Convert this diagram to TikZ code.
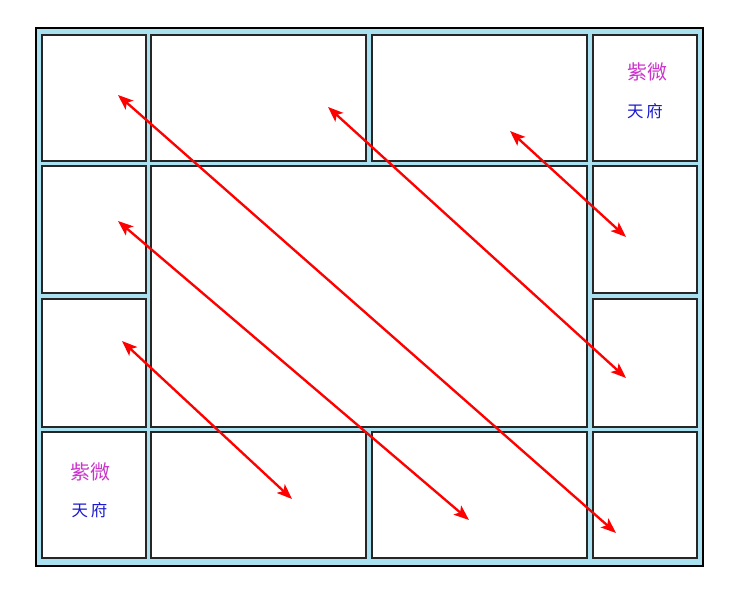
\documentclass[tikz,border=0pt]{standalone}
\usepackage{fontspec}
\usepackage{xcolor}
\newfontfamily\cjk{Noto Sans CJK TC}
\usetikzlibrary{
	positioning,       %定位
	arrows.meta        %箭头
}
\definecolor{gongblue}{HTML}{A9E1F0}
\definecolor{ziwei}{HTML}{CC33CC}
\definecolor{tianfu}{HTML}{1A1AD0}
\tikzset{
	every picture/.style={
		>=latex,
		x=0.03cm,y=-0.03cm
}}
\tikzset{
	frame/.style={draw=black,line width=2pt,fill=gongblue},
	cell/.style={draw=black!85,line width=1pt,fill=white},
	star/.style={font=\cjk\fontsize{17pt}{17pt}\selectfont,text=ziwei,inner sep=0pt},
	starb/.style={font=\cjk\fontsize{14pt}{14pt}\selectfont,text=tianfu,inner sep=0pt},
	pairline/.style={draw=red,line width=2pt,{Stealth[length=13pt,width=10pt,inset=3pt]}-{Stealth[length=13pt,width=10pt,inset=3pt]}}
}
\begin{document}
\begin{tikzpicture}
	\useasboundingbox (0,0) rectangle (740,594);
	% 外框
	\draw[frame] (36,28) rectangle (703,566);
	% 十二宫
	\foreach \xa/\xb in {42/146,151/366,372/587,593/697}
	{
		\draw[cell] (\xa,35) rectangle (\xb,161);
		\draw[cell] (\xa,432) rectangle (\xb,558);
	}
	\foreach \ya/\yb in {166/293,299/427}
	{
		\draw[cell] (42,\ya) rectangle (146,\yb);
		\draw[cell] (593,\ya) rectangle (697,\yb);
	}
	\draw[cell] (151,166) rectangle (587,427);
	% 星名
	\node[star] (zw1) at (647,72) {紫微};
	\node[starb] (tf1) at (645,111) {天\,府};
	\node[star] (zw2) at (90,472) {紫微};
	\node[starb] (tf2) at (89.5,510) {天\,府};
	% 对称线
	\coordinate (p1a) at (118,95);  \coordinate (p1b) at (616,533);
	\coordinate (p2a) at (328,107); \coordinate (p2b) at (626,378);
	\coordinate (p3a) at (510,131); \coordinate (p3b) at (626,237);
	\coordinate (p4a) at (118,221); \coordinate (p4b) at (469,520);
	\coordinate (p5a) at (122,341); \coordinate (p5b) at (292,499);
	\foreach \i in {1,...,5}
	\draw[pairline] (p\i a) -- (p\i b);
\end{tikzpicture}
\end{document}
